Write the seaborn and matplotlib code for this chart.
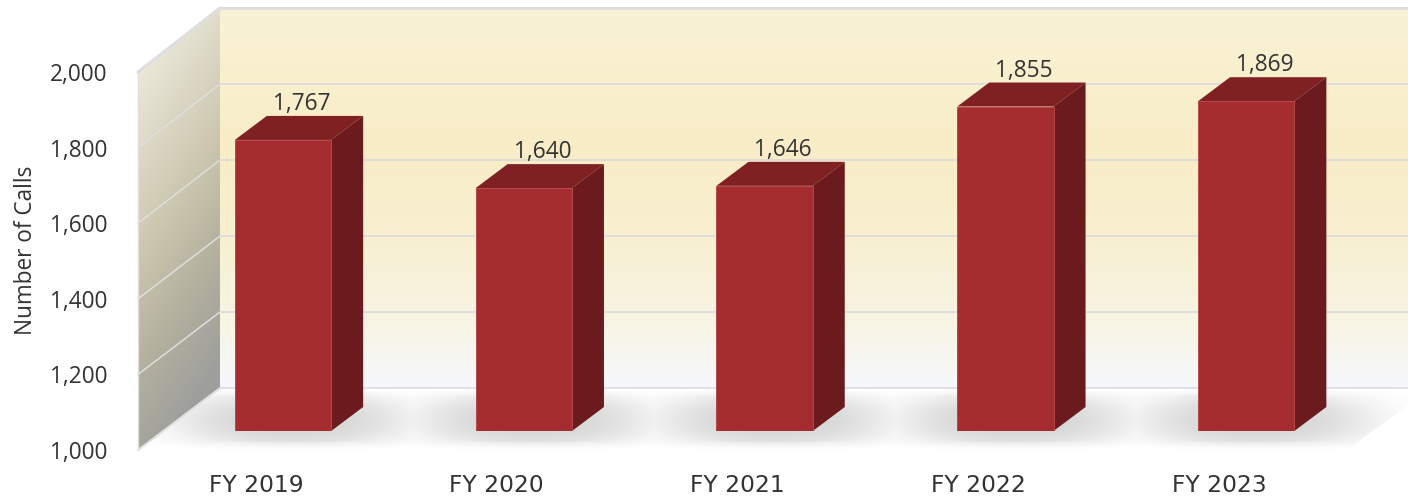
import numpy as np
import pandas as pd
import matplotlib
matplotlib.use("Agg")
import matplotlib.pyplot as plt
import seaborn as sns
from matplotlib.colors import LinearSegmentedColormap
from matplotlib.lines import Line2D
from matplotlib.patches import Polygon
from matplotlib.ticker import StrMethodFormatter
from matplotlib.transforms import IdentityTransform

fiscal_years = ["FY 2019", "FY 2020", "FY 2021", "FY 2022", "FY 2023"]
calls = [1767, 1640, 1646, 1855, 1869]
y_ticks = [1000, 1200, 1400, 1600, 1800, 2000]

W, H = 1408, 497
FRONT_COLOR, TOP_COLOR, SIDE_COLOR = "#A52D30", "#7F2022", "#6B1B1E"
GRID = "#D8D8DE"
TEXT = "#333333"
FS = 16.3

sns.set_theme(style="white")
plt.rcParams["font.family"] = ["Open Sans", "DejaVu Sans"]

fig = plt.figure(figsize=(W / 100, H / 100), dpi=100, facecolor="white")


def px_axes(x0, ytop, x1, ybot, **kw):
    ax = fig.add_axes([x0 / W, 1 - ybot / H, (x1 - x0) / W, (ybot - ytop) / H], **kw)
    ax.patch.set_alpha(0)
    return ax


# ---------- room shell in pixel space ----------
bg = px_axes(0, 0, W, H)
bg.set_xlim(0, W)
bg.set_ylim(H, 0)
bg.axis("off")


def gradient(arr, extent, clip_pts, **kw):
    im = bg.imshow(arr, extent=extent, aspect="auto", zorder=1, interpolation="bilinear", **kw)
    im.set_clip_path(Polygon(clip_pts, transform=bg.transData))
    return im


# back wall
back_cmap = LinearSegmentedColormap.from_list(
    "back", [(0, "#F9F2D4"), (0.38, "#F8EDC6"), (0.62, "#F8F0D2"), (0.85, "#F7F5E6"), (1, "#F6F8FD")]
)
gradient(np.linspace(0, 1, 256)[:, None], (220, W, 388, 8),
         [(220, 8), (W, 8), (W, 388), (220, 388)], cmap=back_cmap, vmin=0, vmax=1)

# left wall, diagonal gradient
gx, gy = np.meshgrid(np.linspace(0, 1, 120), np.linspace(0, 1, 300))
left_cmap = LinearSegmentedColormap.from_list(
    "left", [(0, "#ECE8DA"), (0.45, "#CBC6AE"), (0.72, "#B3B09E"), (1, "#9E9F9D")]
)
gradient(np.clip(1.05 * gy + 0.3 * gx - 0.15, 0, 1), (138, 220, 450, 8),
         [(138, 72), (220, 8), (220, 388), (138, 450)], cmap=left_cmap, vmin=0, vmax=1)

# ---------- scaled planes ----------
back = px_axes(220, 8, W, 388)
back.set_ylim(y_ticks[0], y_ticks[-1])
back.set_xlim(0, 1)
back.axis("off")
back.hlines(y_ticks, 0, 1, colors=GRID, linewidth=1.1, clip_on=False, zorder=2)

front = px_axes(138, 72, W, 450)
bars_ax = px_axes(165, 51.5, W + 27, 431)

# bars drawn by seaborn on the plane set back from the axis
df = pd.DataFrame({"year": fiscal_years, "calls": calls})
sns.barplot(data=df, x="year", y="calls", color=FRONT_COLOR, saturation=1, width=0.4,
            edgecolor="#B5494B", linewidth=0.7, ax=bars_ax, zorder=3)
unit = 240.8
xlim = (-(256 - 138) / unit, (W - 256) / unit)
bars_ax.set_xlim(*xlim)
bars_ax.set_ylim(y_ticks[0], y_ticks[-1])
bars_ax.axis("off")

# axis plane: tick labels and title
front.set_xlim(*xlim)
front.set_ylim(y_ticks[0], y_ticks[-1])
front.set_xticks(range(len(fiscal_years)))
front.set_xticklabels(fiscal_years, fontsize=16.8, color=TEXT, family=["DejaVu Sans"])
front.set_yticks(y_ticks)
front.yaxis.set_major_formatter(StrMethodFormatter("{x:,.0f}"))
front.tick_params(axis="y", length=0, pad=22, labelsize=FS, labelcolor=TEXT)
front.tick_params(axis="x", length=0, pad=17)
front.set_ylabel("Number of Calls", fontsize=FS, color=TEXT)
front.yaxis.set_label_coords((38 - 138) / (W - 138), 0.529)
for s in front.spines.values():
    s.set_visible(False)
front.grid(False)

# ---------- left wall lines, linking the front and back plane ----------
fig.canvas.draw()
ident = IdentityTransform()
for v in y_ticks:
    p0 = front.transData.transform((xlim[0], v))
    p1 = back.transData.transform((0, v))
    lw = 2.2 if v == y_ticks[-1] else 1.1
    bg.add_line(Line2D([p0[0], p1[0]], [p0[1], p1[1]], color="#DEDEDE", lw=lw,
                       transform=ident, clip_on=False, zorder=2))
back.hlines(y_ticks[-1], 0, 1, colors="#DDDDE0", linewidth=2.2, clip_on=False, zorder=2)
p_bot = front.transData.transform((xlim[0], y_ticks[0]))
p_top = front.transData.transform((xlim[0], y_ticks[-1]))
bg.add_line(Line2D([p_bot[0]] * 2, [p_bot[1], p_top[1]], color="#DEDEDE", lw=1.0,
                   transform=ident, clip_on=False, zorder=2))

# ---------- extruded faces and labels, derived from the seaborn bars ----------
DX, DY = 32, 24
x0s = []
for bar, value in zip(bars_ax.patches, calls):
    xa = bar.get_x()
    xb = xa + bar.get_width()
    (l, t), (r, b) = bars_ax.transData.transform([(xa, value), (xb, y_ticks[0])])
    x0s.append((l, r))
    bars_ax.add_patch(Polygon([(l, t), (r, t), (r + DX, t + DY), (l + DX, t + DY)], closed=True,
                              facecolor=TOP_COLOR, edgecolor="none",
                              transform=ident, clip_on=False, zorder=2))
    bars_ax.add_patch(Polygon([(r, b), (r + DX, b + DY), (r + DX, t + DY), (r, t)], closed=True,
                              facecolor=SIDE_COLOR, edgecolor="none",
                              transform=ident, clip_on=False, zorder=2))
    bars_ax.annotate(f"{value:,}", xy=((xa + xb) / 2, value), xytext=(18.5, DY + 6),
                     textcoords="offset pixels", ha="center", va="baseline",
                     fontsize=FS, color=TEXT, annotation_clip=False, zorder=4)

# ---------- floor with soft shadows under each bar ----------
fx, fy = np.meshgrid(np.arange(138, W + 1), np.arange(388, 451))
dark = np.zeros_like(fx, dtype=float)
for l, r in x0s:
    cx = (l + r) / 2 + 10
    rr = ((fx - cx) / 118.0) ** 2 + ((fy - 420) / 31.0) ** 2
    dark = np.maximum(dark, np.exp(-rr ** 1.5))
dark *= np.clip((450 - fy) / 9.0, 0, 1) * np.clip((fy - 388) / 8.0, 0, 1)
floor = np.clip(1 - 0.165 * dark, 0, 1)
gradient(floor, (138, W, 450, 388),
         [(138, 450), (220, 388), (W, 388), (W, 405), (1347, 450)],
         cmap="gray", vmin=0, vmax=1)
bg.add_line(Line2D([138, 220], [450, 388], color="#E0E0E0", lw=1.3, zorder=3))

fig.savefig("out.png", dpi=100, facecolor="white")
